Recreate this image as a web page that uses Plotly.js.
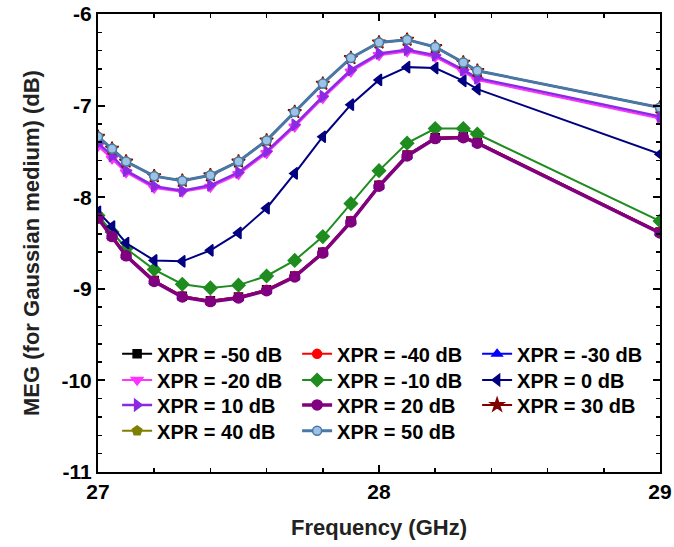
<!DOCTYPE html>
<html>
<head>
<meta charset="utf-8">
<script src="https://cdn.plot.ly/plotly-3.0.1.min.js"></script>
<style>html,body{margin:0;padding:0;background:#fff;}#chart{width:674px;height:547px;}</style>
</head>
<body>
<div id="chart"></div>
<script>
// Frequency points (GHz)
const freq = [27, 27.05, 27.1, 27.2, 27.3, 27.4, 27.5, 27.6, 27.7, 27.8, 27.9, 28.0, 28.1, 28.2, 28.3, 28.35, 29];

// MEG (dB) per XPR value
const xprM50 = [-8.22, -8.42, -8.63, -8.91, -9.08, -9.13, -9.09, -9.01, -8.86, -8.60, -8.26, -7.87, -7.54, -7.35, -7.34, -7.40, -8.38];
const xprM40 = [-8.22, -8.42, -8.63, -8.91, -9.08, -9.13, -9.09, -9.01, -8.86, -8.60, -8.26, -7.87, -7.54, -7.35, -7.34, -7.40, -8.38];
const xprM30 = [-8.23, -8.43, -8.64, -8.92, -9.09, -9.14, -9.10, -9.02, -8.87, -8.61, -8.27, -7.88, -7.55, -7.36, -7.35, -7.41, -8.39];
const xprM20 = [-7.44, -7.58, -7.73, -7.90, -7.94, -7.89, -7.75, -7.52, -7.23, -6.92, -6.63, -6.45, -6.41, -6.47, -6.63, -6.72, -7.14];
const xprM10 = [-8.20, -8.38, -8.56, -8.79, -8.95, -8.99, -8.96, -8.86, -8.69, -8.43, -8.07, -7.71, -7.41, -7.25, -7.25, -7.31, -8.26];
const xpr0   = [-8.16, -8.32, -8.50, -8.69, -8.70, -8.58, -8.39, -8.12, -7.74, -7.34, -6.99, -6.72, -6.58, -6.59, -6.73, -6.82, -7.53];
const xprP10 = [-7.41, -7.55, -7.71, -7.88, -7.93, -7.87, -7.73, -7.50, -7.21, -6.90, -6.61, -6.43, -6.39, -6.45, -6.61, -6.70, -7.12];
const xprP20 = [-8.23, -8.43, -8.64, -8.92, -9.09, -9.14, -9.10, -9.02, -8.87, -8.61, -8.27, -7.88, -7.55, -7.36, -7.35, -7.41, -8.39];
const xprP30 = [-7.34, -7.47, -7.61, -7.77, -7.82, -7.76, -7.61, -7.38, -7.07, -6.76, -6.48, -6.31, -6.28, -6.36, -6.53, -6.62, -7.02];
const xprP40 = [-7.34, -7.47, -7.61, -7.77, -7.82, -7.76, -7.61, -7.38, -7.07, -6.76, -6.48, -6.31, -6.28, -6.36, -6.53, -6.62, -7.02];
const xprP50 = [-7.34, -7.47, -7.61, -7.77, -7.82, -7.76, -7.61, -7.38, -7.07, -6.76, -6.48, -6.31, -6.28, -6.36, -6.53, -6.62, -7.02];

const seriesNames = ['XPR = -50 dB','XPR = -40 dB','XPR = -30 dB','XPR = -20 dB','XPR = -10 dB','XPR = 0 dB',
                     'XPR = 10 dB','XPR = 20 dB','XPR = 30 dB','XPR = 40 dB','XPR = 50 dB'];
const seriesData = [xprM50, xprM40, xprM30, xprM20, xprM10, xpr0, xprP10, xprP20, xprP30, xprP40, xprP50];

// Tick labels
const xTickVals = [27, 28, 29];
const xTickText = ['27', '28', '29'];
const yTickVals = [-11, -10, -9, -8, -7, -6];
const yTickText = ['-11', '-10', '-9', '-8', '-7', '-6'];

const styles = [
  {color:'#000000', symbol:'square', fill:'#000000', size:8, width:2},
  {color:'#ff0000', symbol:'circle', fill:'#ff0000', size:9, width:2},
  {color:'#0000ff', symbol:'triangle-up', fill:'#0000ff', size:9, width:2},
  {color:'#ff33ff', symbol:'triangle-down', fill:'#ff33ff', size:10, width:2},
  {color:'#1e8c1e', symbol:'diamond', fill:'#1e8c1e', size:10, width:2},
  {color:'#000080', symbol:'triangle-left', fill:'#000080', size:10, width:2},
  {color:'#8a2be2', symbol:'triangle-right', fill:'#8a2be2', size:10, width:2.5},
  {color:'#800080', symbol:'circle', fill:'#800080', size:10, width:3.5},
  {color:'#800000', symbol:'star', fill:'#800000', size:10, width:2},
  {color:'#808000', symbol:'pentagon', fill:'#808000', size:10, width:2},
  {color:'#4a78a6', symbol:'circle', fill:'#9cc3e6', size:9, width:3}
];

const legendIds = ['legend', 'legend2', 'legend3', 'legend4'];

const traces = seriesData.map((yv, i) => ({
  x: freq, y: yv, name: seriesNames[i], type: 'scatter', mode: 'lines+markers',
  legend: legendIds[Math.floor(i / 3)],
  line: {color: styles[i].color, width: styles[i].width},
  marker: {symbol: styles[i].symbol, size: styles[i].size, color: styles[i].fill,
           line: {color: styles[i].color, width: 1.5}}
}));

const fontFam = 'Liberation Sans, Arial, sans-serif';
const axisCommon = {
  showline: true, linewidth: 2, linecolor: '#000', mirror: 'allticks',
  ticks: 'inside', ticklen: 7, tickwidth: 2, tickcolor: '#000',
  showgrid: false, zeroline: false, tickmode: 'array',
  tickfont: {family: fontFam, size: 21, color: '#000', weight: 'bold'}
};

function legendRow(yTop) {
  return {
    orientation: 'h', x: 0.034, y: yTop, xanchor: 'left', yanchor: 'top',
    entrywidth: 135, entrywidthmode: 'pixels',
    bgcolor: 'rgba(0,0,0,0)', borderwidth: 0,
    font: {family: fontFam, size: 20, color: '#000', weight: 'bold'}
  };
}

const layout = {
  width: 674, height: 547,
  margin: {l: 98, r: 14, t: 14, b: 75},
  paper_bgcolor: '#fff', plot_bgcolor: '#fff',
  showlegend: true,
  xaxis: Object.assign({}, axisCommon, {
    range: [27, 29], tickvals: xTickVals, ticktext: xTickText,
    minor: {tickmode: 'linear', tick0: 27, dtick: 0.2, ticks: 'inside', ticklen: 4, tickwidth: 1.5, tickcolor: '#000'},
    title: {text: 'Frequency (GHz)', standoff: 17, font: {family: fontFam, size: 22, color: '#222', weight: 'bold'}}
  }),
  yaxis: Object.assign({}, axisCommon, {
    range: [-11, -6], tickvals: yTickVals, ticktext: yTickText,
    minor: {tickmode: 'linear', tick0: -11, dtick: 0.2, ticks: 'inside', ticklen: 4, tickwidth: 1.5, tickcolor: '#000'},
    title: {text: 'MEG (for Gaussian medium) (dB)', standoff: 16, font: {family: fontFam, size: 22, color: '#222', weight: 'bold'}}
  }),
  legend: legendRow(0.3005),
  legend2: legendRow(0.2435),
  legend3: legendRow(0.189),
  legend4: legendRow(0.1325)
};

Plotly.newPlot('chart', traces, layout, {staticPlot: true, displayModeBar: false});
</script>
</body>
</html>
